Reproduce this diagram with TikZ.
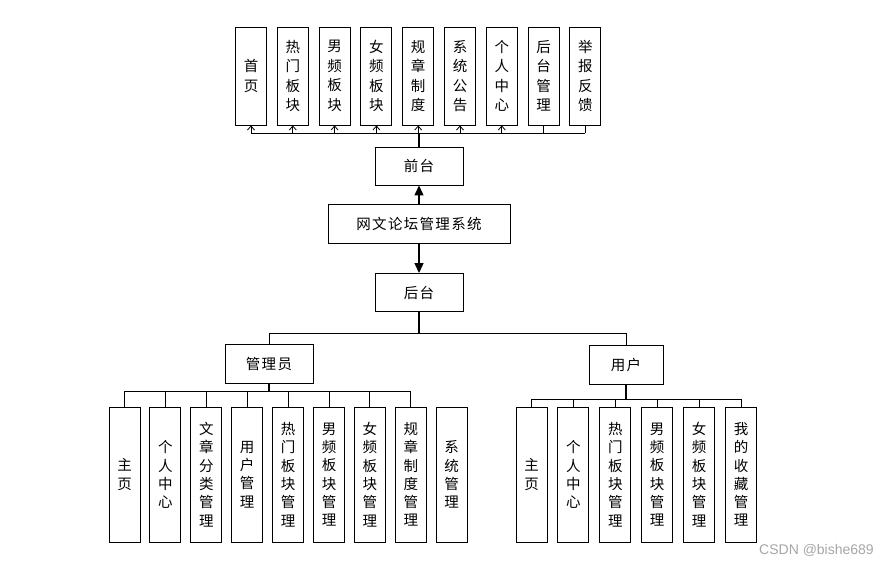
\documentclass[tikz,border=0pt]{standalone}
\usepackage{fontspec}
\setmainfont{Noto Sans CJK SC}
\newfontfamily\wmfont{Liberation Sans}
\usetikzlibrary{arrows.meta}
\newcommand{\vtfont}{\fontsize{14.5}{19.5}\selectfont}
\newcommand{\vbfont}{\fontsize{14.5}{18.3}\selectfont}
\newcommand{\hfont}{\fontsize{14.5}{18}\selectfont\addfontfeature{LetterSpace=9}}
\begin{document}
\begin{tikzpicture}[x=1pt,y=-1pt,
  conn/.style={draw=black,line width=0.9pt},
  trunk/.style={draw=black,line width=1.6pt},
  sarrow/.style={conn,-{Straight Barb[length=4pt,width=7pt,line width=0.8pt]}},
  bigarrow/.style={draw=black,line width=1.2pt,-{Triangle[length=10pt,width=9pt]}},
  topbox/.style={draw=black,line width=0.9pt,minimum width=31pt,minimum height=98pt,inner sep=0pt,align=center,font=\vtfont},
  botbox/.style={draw=black,line width=0.9pt,minimum width=31pt,minimum height=135pt,inner sep=0pt,align=center,font=\vbfont},
  hbox/.style={draw=black,line width=0.9pt,inner sep=0pt,align=center,font=\hfont}]
\useasboundingbox (0,0) rectangle (896,566);
% top row
\node[topbox] (t1) at (251.0,76) {首\\页};
\node[topbox] (t2) at (292.8,76) {热\\门\\板\\块};
\node[topbox] (t3) at (334.6,76) {男\\频\\板\\块};
\node[topbox] (t4) at (376.4,76) {女\\频\\板\\块};
\node[topbox] (t5) at (418.2,76) {规\\章\\制\\度};
\node[topbox] (t6) at (460.0,76) {系\\统\\公\\告};
\node[topbox] (t7) at (501.8,76) {个\\人\\中\\心};
\node[topbox] (t8) at (543.6,76) {后\\台\\管\\理};
\node[topbox] (t9) at (585.4,76) {举\\报\\反\\馈};
% main column
\node[hbox,minimum width=88pt,minimum height=38pt] (qt) at (419,166) {前台};
\node[hbox,minimum width=182pt,minimum height=39pt] (sys) at (419,223.5) {网文论坛管理系统};
\node[hbox,minimum width=88pt,minimum height=38pt] (ht) at (419,292.5) {后台};
\node[hbox,minimum width=88pt,minimum height=39pt] (gly) at (269,363.5) {管理员};
\node[hbox,minimum width=74pt,minimum height=39pt] (yh) at (626,364.5) {用户};
% admin children
\node[botbox] (a1) at (124.5,474.5) {主\\页};
\node[botbox] (a2) at (165.4,474.5) {个\\人\\中\\心};
\node[botbox] (a3) at (206.3,474.5) {文\\章\\分\\类\\管\\理};
\node[botbox] (a4) at (247.2,474.5) {用\\户\\管\\理};
\node[botbox] (a5) at (288.1,474.5) {热\\门\\板\\块\\管\\理};
\node[botbox] (a6) at (329.0,474.5) {男\\频\\板\\块\\管\\理};
\node[botbox] (a7) at (369.9,474.5) {女\\频\\板\\块\\管\\理};
\node[botbox] (a8) at (410.8,474.5) {规\\章\\制\\度\\管\\理};
\node[botbox] (a9) at (451.7,474.5) {系\\统\\管\\理};
% user children
\node[botbox] (u1) at (531.5,474.5) {主\\页};
\node[botbox] (u2) at (573.4,474.5) {个\\人\\中\\心};
\node[botbox] (u3) at (615.3,474.5) {热\\门\\板\\块\\管\\理};
\node[botbox] (u4) at (657.2,474.5) {男\\频\\板\\块\\管\\理};
\node[botbox] (u5) at (699.1,474.5) {女\\频\\板\\块\\管\\理};
\node[botbox] (u6) at (741.0,474.5) {我\\的\\收\\藏\\管\\理};
% bus coordinates
\coordinate (busT) at (419,133);
\coordinate (busM) at (419,333);
\coordinate (busA) at (269,391);
\coordinate (busU) at (626,399);
% top connectors
\draw[trunk] (qt.north) -- (busT);
\draw[conn] (t1.south |- busT) -- (t9.south |- busT);
\foreach \i in {1,...,7} \draw[sarrow] (t\i.south |- busT) -- (t\i.south);
\draw[conn] (t8.south |- busT) -- (t8.south);
\draw[conn] (t9.south |- busT) -- (t9.south);
% main arrows
\draw[bigarrow] (sys.north) -- (qt.south);
\draw[bigarrow] (sys.south) -- (ht.north);
% back-end split
\draw[trunk] (ht.south) -- (busM);
\draw[conn] (gly.north |- busM) -- (yh.north |- busM);
\draw[conn] (gly.north |- busM) -- (gly.north);
\draw[conn] (yh.north |- busM) -- (yh.north);
% admin
\draw[trunk] (gly.south) -- (busA);
\draw[conn] (a1.north |- busA) -- (a8.north |- busA);
\foreach \i in {1,...,8} \draw[conn] (a\i.north |- busA) -- (a\i.north);
% user
\draw[trunk] (yh.south) -- (busU);
\draw[conn] (u1.north |- busU) -- (u6.north |- busU);
\foreach \i in {1,...,6} \draw[conn] (u\i.north |- busU) -- (u\i.north);
% watermark
\node[anchor=west,text=black!35,font=\wmfont\fontsize{14}{16}\selectfont,inner sep=0pt] (wm) at (759,550) {CSDN @bishe689};
\end{tikzpicture}
\end{document}
